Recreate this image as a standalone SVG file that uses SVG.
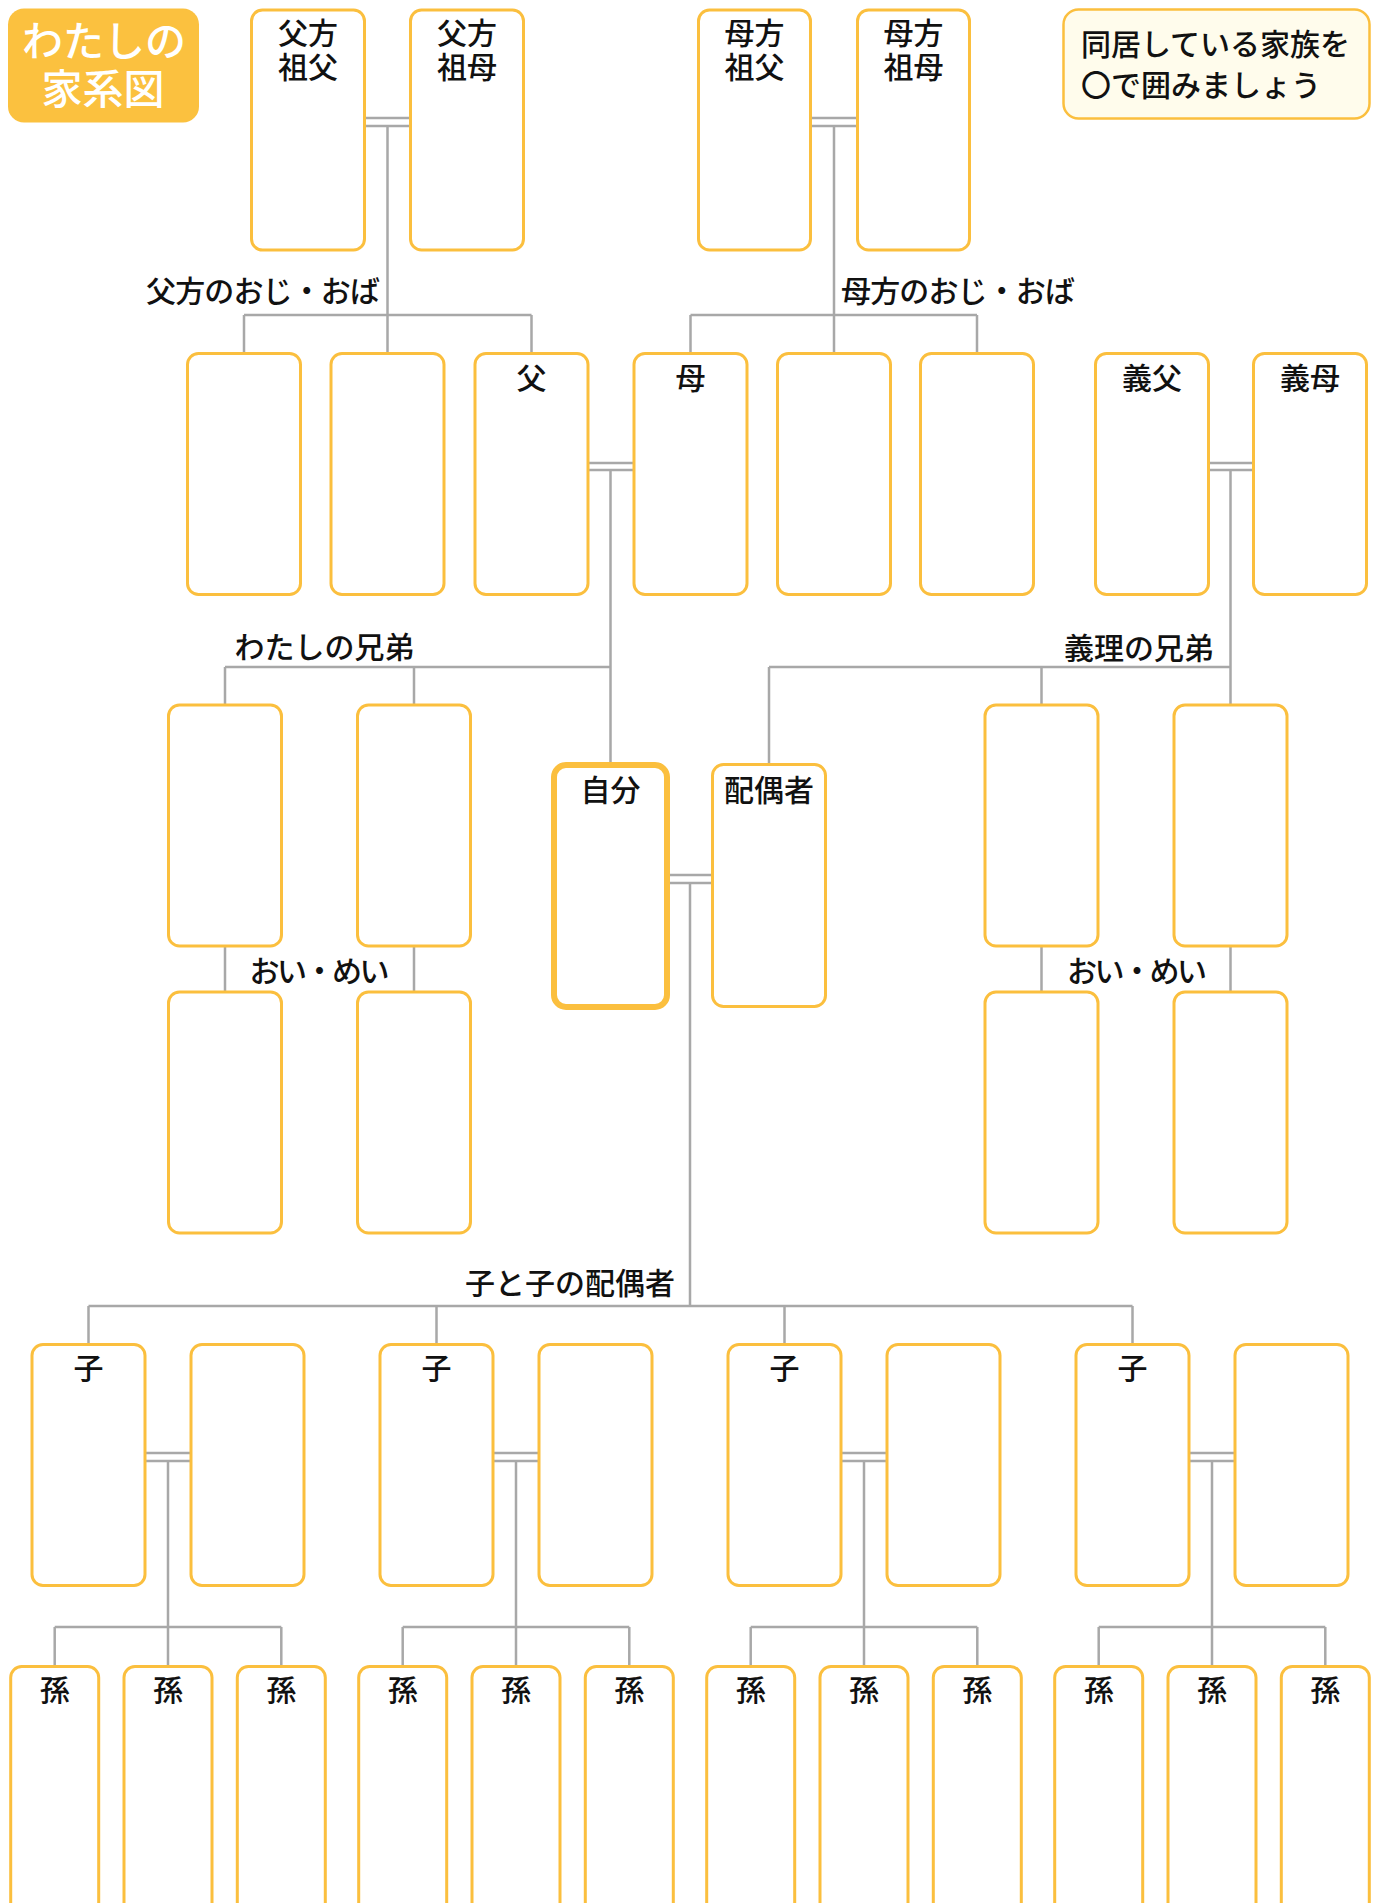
<svg xmlns="http://www.w3.org/2000/svg" width="1384" height="1903" viewBox="0 0 1384 1903">
<style>
.box{fill:#fff;stroke:#FBBF3E;stroke-width:3}
.self{stroke-width:6}
.ln{stroke:#A8A8A8;stroke-width:2.5;fill:none}
.t{font-family:"Noto Sans CJK JP","Noto Sans",sans-serif;font-size:30px;font-weight:500;fill:#111}
.c{text-anchor:middle}
.e{text-anchor:end}
</style>
<rect width="1384" height="1903" fill="#fff"/>
<g id="connectors" class="ln">
<path d="M364.5 118H410.5M364.5 126H410.5M387.5 126V353.5M244 315H531.5M244 315V353.5M531.5 315V353.5"/>
<path d="M811.5 118H857.5M811.5 126H857.5M834 126V353.5M690.5 315H977M690.5 315V353.5M977 315V353.5"/>
<path d="M588 463H634M588 470H634M610.5 470V765M225 667H610.5M225 667V705M414 667V705"/>
<path d="M1208.5 463H1253.5M1208.5 470H1253.5M1230.5 470V705M769 667H1230.5M769 667V764.5M1041.5 667V705"/>
<path d="M225 946V992M414 946V992M1041.5 946V992M1230.5 946V992"/>
<path d="M667 875H712.5M667 883H712.5M690 883V1306M88.5 1306H1132.5M88.5 1306V1344.5M436.5 1306V1344.5M784.5 1306V1344.5M1132.5 1306V1344.5"/>
<path d="M145 1453H191M145 1461H191M168 1461V1627M54.7 1627H281.3M54.7 1627V1666.5M168 1627V1666.5M281.3 1627V1666.5"/>
<path d="M493 1453H539M493 1461H539M516 1461V1627M402.7 1627H629.3M402.7 1627V1666.5M516 1627V1666.5M629.3 1627V1666.5"/>
<path d="M841 1453H887M841 1461H887M864 1461V1627M750.7 1627H977.3M750.7 1627V1666.5M864 1627V1666.5M977.3 1627V1666.5"/>
<path d="M1189 1453H1235M1189 1461H1235M1212 1461V1627M1098.7 1627H1325.3M1098.7 1627V1666.5M1212 1627V1666.5M1325.3 1627V1666.5"/>
</g>
<g id="title">
<rect x="8" y="8.5" width="191" height="114" rx="16" fill="#FBC13F"/>
<text class="c" font-family="'Noto Sans CJK JP',sans-serif" font-size="41" font-weight="500" fill="#fff"><tspan x="104" y="56">わたしの</tspan><tspan x="103" y="104">家系図</tspan></text>
</g>
<g id="note">
<rect x="1063.5" y="9.5" width="306" height="109" rx="15" fill="#FFFCEC" stroke="#FBBF3E" stroke-width="2.5"/>
<text class="t"><tspan x="1081" y="55">同居している家族を</tspan><tspan x="1081" y="96">〇で囲みましょう</tspan></text>
</g>
<g id="gp1"><rect class="box" x="251.5" y="10" width="113" height="240" rx="11"/><text class="t c"><tspan x="308" y="44">父方</tspan><tspan x="308" y="78">祖父</tspan></text></g>
<g id="gp2"><rect class="box" x="410.5" y="10" width="113" height="240" rx="11"/><text class="t c"><tspan x="467" y="44">父方</tspan><tspan x="467" y="78">祖母</tspan></text></g>
<g id="gp3"><rect class="box" x="698.5" y="10" width="112" height="240" rx="11"/><text class="t c"><tspan x="754.5" y="44">母方</tspan><tspan x="754.5" y="78">祖父</tspan></text></g>
<g id="gp4"><rect class="box" x="857.5" y="10" width="112" height="240" rx="11"/><text class="t c"><tspan x="913.5" y="44">母方</tspan><tspan x="913.5" y="78">祖母</tspan></text></g>
<g id="labels">
<text class="t e" x="380" y="302" textLength="234" lengthAdjust="spacing">父方のおじ・おば</text>
<text class="t" x="841" y="302" textLength="234" lengthAdjust="spacing">母方のおじ・おば</text>
<text class="t e" x="414.5" y="658">わたしの兄弟</text>
<text class="t e" x="1214" y="659">義理の兄弟</text>
<text class="t c" x="319.5" y="982" textLength="140" lengthAdjust="spacing">おい・めい</text>
<text class="t c" x="1137" y="982" textLength="140" lengthAdjust="spacing">おい・めい</text>
<text class="t e" x="675" y="1294">子と子の配偶者</text>
</g>
<g id="uncle1"><rect class="box" x="187.5" y="353.5" width="113" height="241" rx="11"/></g>
<g id="uncle2"><rect class="box" x="331" y="353.5" width="113" height="241" rx="11"/></g>
<g id="father"><rect class="box" x="475" y="353.5" width="113" height="241" rx="11"/><text class="t c" x="531.5" y="389">父</text></g>
<g id="mother"><rect class="box" x="634" y="353.5" width="113" height="241" rx="11"/><text class="t c" x="690.5" y="389">母</text></g>
<g id="uncle3"><rect class="box" x="777.5" y="353.5" width="113" height="241" rx="11"/></g>
<g id="uncle4"><rect class="box" x="920.5" y="353.5" width="113" height="241" rx="11"/></g>
<g id="fil"><rect class="box" x="1095.5" y="353.5" width="113" height="241" rx="11"/><text class="t c" x="1152" y="389">義父</text></g>
<g id="mil"><rect class="box" x="1253.5" y="353.5" width="113" height="241" rx="11"/><text class="t c" x="1310" y="389">義母</text></g>
<g id="sib1"><rect class="box" x="168.5" y="705" width="113" height="241" rx="11"/></g>
<g id="sib2"><rect class="box" x="357.5" y="705" width="113" height="241" rx="11"/></g>
<g id="sil1"><rect class="box" x="985" y="705" width="113" height="241" rx="11"/></g>
<g id="sil2"><rect class="box" x="1174" y="705" width="113" height="241" rx="11"/></g>
<g id="nep1"><rect class="box" x="168.5" y="992" width="113" height="241" rx="11"/></g>
<g id="nep2"><rect class="box" x="357.5" y="992" width="113" height="241" rx="11"/></g>
<g id="nep3"><rect class="box" x="985" y="992" width="113" height="241" rx="11"/></g>
<g id="nep4"><rect class="box" x="1174" y="992" width="113" height="241" rx="11"/></g>
<g id="self"><rect class="box self" x="554" y="765" width="113" height="242" rx="12"/><text class="t c" x="610.5" y="801">自分</text></g>
<g id="spouse"><rect class="box" x="712.5" y="764.5" width="113" height="242" rx="11"/><text class="t c" x="769" y="801">配偶者</text></g>
<g id="child1"><rect class="box" x="32" y="1344.5" width="113" height="241" rx="11"/><text class="t c" x="88.5" y="1379">子</text></g>
<g id="cspouse1"><rect class="box" x="191" y="1344.5" width="113" height="241" rx="11"/></g>
<g id="child2"><rect class="box" x="380" y="1344.5" width="113" height="241" rx="11"/><text class="t c" x="436.5" y="1379">子</text></g>
<g id="cspouse2"><rect class="box" x="539" y="1344.5" width="113" height="241" rx="11"/></g>
<g id="child3"><rect class="box" x="728" y="1344.5" width="113" height="241" rx="11"/><text class="t c" x="784.5" y="1379">子</text></g>
<g id="cspouse3"><rect class="box" x="887" y="1344.5" width="113" height="241" rx="11"/></g>
<g id="child4"><rect class="box" x="1076" y="1344.5" width="113" height="241" rx="11"/><text class="t c" x="1132.5" y="1379">子</text></g>
<g id="cspouse4"><rect class="box" x="1235" y="1344.5" width="113" height="241" rx="11"/></g>
<g id="gc1"><rect class="box" x="10.7" y="1666.5" width="88" height="260" rx="11"/><text class="t c" x="54.7" y="1701">孫</text></g>
<g id="gc2"><rect class="box" x="124" y="1666.5" width="88" height="260" rx="11"/><text class="t c" x="168" y="1701">孫</text></g>
<g id="gc3"><rect class="box" x="237.3" y="1666.5" width="88" height="260" rx="11"/><text class="t c" x="281.3" y="1701">孫</text></g>
<g id="gc4"><rect class="box" x="358.7" y="1666.5" width="88" height="260" rx="11"/><text class="t c" x="402.7" y="1701">孫</text></g>
<g id="gc5"><rect class="box" x="472" y="1666.5" width="88" height="260" rx="11"/><text class="t c" x="516" y="1701">孫</text></g>
<g id="gc6"><rect class="box" x="585.3" y="1666.5" width="88" height="260" rx="11"/><text class="t c" x="629.3" y="1701">孫</text></g>
<g id="gc7"><rect class="box" x="706.7" y="1666.5" width="88" height="260" rx="11"/><text class="t c" x="750.7" y="1701">孫</text></g>
<g id="gc8"><rect class="box" x="820" y="1666.5" width="88" height="260" rx="11"/><text class="t c" x="864" y="1701">孫</text></g>
<g id="gc9"><rect class="box" x="933.3" y="1666.5" width="88" height="260" rx="11"/><text class="t c" x="977.3" y="1701">孫</text></g>
<g id="gc10"><rect class="box" x="1054.7" y="1666.5" width="88" height="260" rx="11"/><text class="t c" x="1098.7" y="1701">孫</text></g>
<g id="gc11"><rect class="box" x="1168" y="1666.5" width="88" height="260" rx="11"/><text class="t c" x="1212" y="1701">孫</text></g>
<g id="gc12"><rect class="box" x="1281.3" y="1666.5" width="88" height="260" rx="11"/><text class="t c" x="1325.3" y="1701">孫</text></g>
</svg>
